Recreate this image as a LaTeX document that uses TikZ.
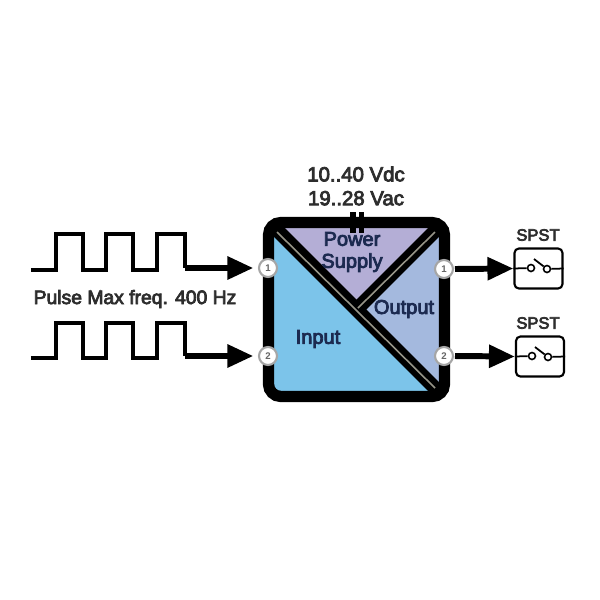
\documentclass[tikz,border=0pt]{standalone}
\usepackage{xcolor}
\usepackage{fontspec}
\setmainfont{Liberation Sans}
\newfontfamily\mediumfont[FakeBold=4]{Liberation Sans}
\usetikzlibrary{arrows.meta, shapes.geometric, positioning}
\definecolor{inputcolor}{RGB}{124, 196, 234}
\definecolor{supplycolor}{RGB}{180, 174, 214}
\definecolor{outputcolor}{RGB}{164, 185, 222}
\definecolor{labelcolor}{RGB}{28, 42, 80}
\definecolor{textcolor}{RGB}{45, 45, 45}
\definecolor{railcolor}{RGB}{150, 148, 135}

\begin{document}
\begin{tikzpicture}[
    x=0.02cm, y=-0.02cm,
    body/.style={draw=black, line width=6.4pt, rounded corners=7pt, minimum width=3.52cm, minimum height=3.48cm, inner sep=0pt},
    section/.style={text=labelcolor, font=\mediumfont\fontsize{11.4}{12.5}\selectfont, align=center, inner sep=0pt},
    caption/.style={text=textcolor, font=\mediumfont\fontsize{11.6}{13.6}\selectfont, align=center, inner sep=0pt},
    note/.style={text=textcolor, font=\mediumfont\fontsize{11}{13}\selectfont, inner sep=0pt},
    tag/.style={text=textcolor, font=\mediumfont\fontsize{9.4}{11}\selectfont, inner sep=0pt},
    terminal/.style={circle, draw=gray!70, fill=white, line width=1.2pt, minimum size=0.36cm, inner sep=0pt, text=gray!80!black, font=\bfseries\fontsize{5.5}{6}\selectfont},
    relay/.style={draw=black, line width=1.2pt, rounded corners=2.5pt, fill=white, minimum width=0.96cm, minimum height=0.8cm, inner sep=0pt},
    contact/.style={circle, draw=black, line width=0.9pt, fill=white, minimum size=0.14cm, inner sep=0pt},
    pulse/.style={draw=black, line width=2.6pt, line join=miter},
    arrow/.style={-{Triangle[length=0.52cm, width=0.44cm]}, line width=3.4pt},
    wire/.style={draw=black, line width=1pt},
    rail/.style={draw=black, line width=8pt},
    railcore/.style={draw=railcolor, line width=0.9pt}
]
\useasboundingbox (0,0) rectangle (600,600);

% Sections
\fill[inputcolor] (270,223) -- (270,396) -- (443,396) -- cycle;
\fill[supplycolor] (270,223) -- (443,223) -- (356.5,309.5) -- cycle;
\fill[outputcolor] (443,223) -- (443,396) -- (356.5,309.5) -- cycle;

% Dividers
\coordinate (railA) at (275,228);
\coordinate (railB) at (439,392);
\coordinate (railC) at (438,228);
\coordinate (railD) at (356.5,309.5);
\draw[rail] (railA) -- (railB);
\draw[rail] (railC) -- (railD);
\coordinate (coreA) at (277,232);
\coordinate (coreB) at (435,388);
\coordinate (coreC) at (435,232);
\coordinate (coreD) at (358,308);
\draw[railcore] (coreA) -- (coreB);
\draw[railcore] (coreC) -- (coreD);

% Module
\node[body] (module) at (356.5,309.5) {};
\coordinate (pinA) at (353,212);
\coordinate (pinB) at (353,233);
\coordinate (pinC) at (361.5,212);
\coordinate (pinD) at (361.5,233);
\draw[line width=3.2pt] (pinA) -- (pinB);
\draw[line width=3.2pt] (pinC) -- (pinD);

% Labels
\node[section] (supply) at (352,252) {Power\\Supply};
\node[section] (output) at (404,309) {Output};
\node[section] (input) at (318,339) {Input};
\node[caption] (power) at (356,186) {10..40 Vdc\\19..28 Vac};
\node[note] (freq) at (135,299) {Pulse Max freq. 400 Hz};
\node[tag] (spstA) at (538,235) {SPST};
\node[tag] (spstB) at (538,323) {SPST};

% Terminals
\node[terminal] (inA) at (268,268) {1};
\node[terminal] (inB) at (268,356) {2};
\node[terminal] (outA) at (444,269) {1};
\node[terminal] (outB) at (444,356) {2};

% Relays
\node[relay] (relayA) at (538.5,268.5) {};
\node[relay] (relayB) at (540,356.5) {};
\node[contact] (contactA) at (531,268) {};
\node[contact] (contactB) at (547,269) {};
\node[contact] (contactC) at (532,356) {};
\node[contact] (contactD) at (548,357) {};
\draw[wire] (relayA.west) -- (contactA);
\draw[wire] (contactB) -- (relayA.east);
\draw[wire] (relayB.west) -- (contactC);
\draw[wire] (contactD) -- (relayB.east);
\coordinate (bladeA) at (534,259);
\coordinate (bladeB) at (535,347);
\draw[wire] (bladeA) -- (contactB);
\draw[wire] (bladeB) -- (contactD);

% Waves
\coordinate (waveA) at (31,270);
\coordinate (waveB) at (31,358);
\draw[pulse] (waveA) -- ++(25,0) -- ++(0,-36) -- ++(27,0) -- ++(0,36) -- ++(23,0) -- ++(0,-36) -- ++(27,0) -- ++(0,36) -- ++(24,0) -- ++(0,-36) -- ++(28,0) -- ++(0,34) coordinate (endA);
\draw[pulse] (waveB) -- ++(25,0) -- ++(0,-35) -- ++(27,0) -- ++(0,35) -- ++(23,0) -- ++(0,-35) -- ++(27,0) -- ++(0,35) -- ++(24,0) -- ++(0,-35) -- ++(28,0) -- ++(0,33) coordinate (endB);

% Arrows
\draw[arrow, shorten >=2.6pt] (endA) -- (inA);
\draw[arrow, shorten >=2.6pt] (endB) -- (inB);
\draw[arrow] (outA) ++(11,0) coordinate (startA) (startA) -- (relayA.west);
\draw[arrow] (outB) ++(11,0) coordinate (startB) (startB) -- (relayB.west);

\end{tikzpicture}
\end{document}
